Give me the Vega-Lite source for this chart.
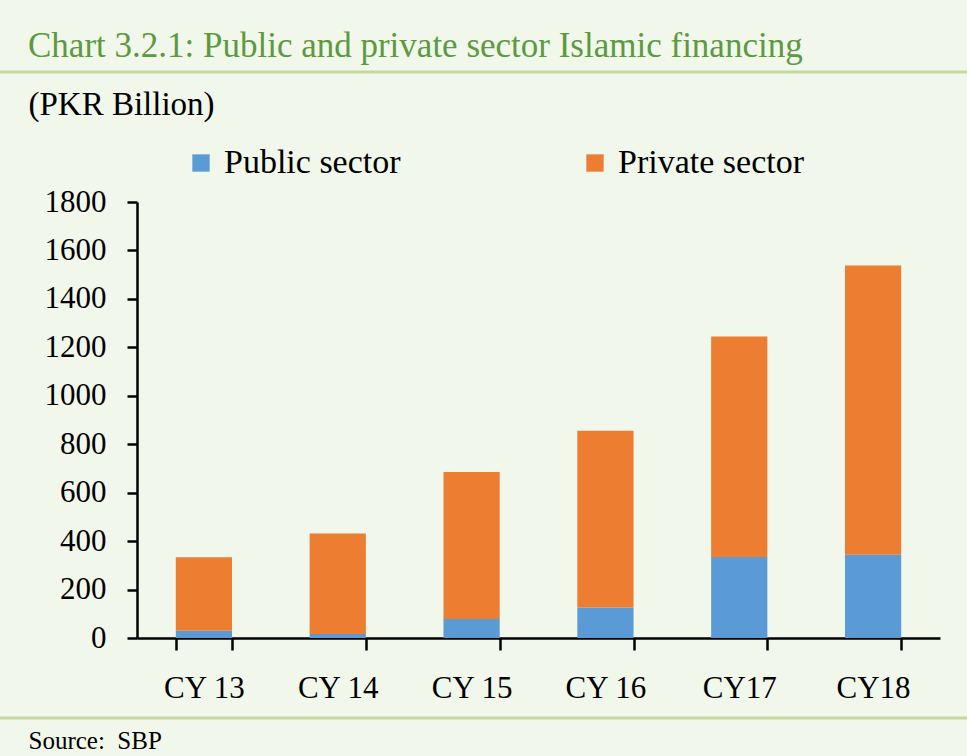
{
  "$schema": "https://vega.github.io/schema/vega-lite/v6.json",
  "width": 803,
  "height": 436,
  "autosize": {"type": "none"},
  "padding": {"left": 137, "top": 202, "right": 27, "bottom": 118},
  "background": "#F2F7EC",
  "title": {
    "text": "Chart 3.2.1: Public and private sector Islamic financing",
    "anchor": "start",
    "frame": "group",
    "dx": -109,
    "offset": 7,
    "font": "Liberation Serif",
    "fontSize": 35,
    "fontWeight": "normal",
    "color": "#5B9A3E"
  },
  "config": {
    "font": "Liberation Serif",
    "view": {"stroke": null},
    "axis": {
      "domainColor": "#000000",
      "domainWidth": 2.5,
      "tickColor": "#000000",
      "tickWidth": 2.5,
      "labelColor": "#000000",
      "labelFont": "Liberation Serif",
      "titleFont": "Liberation Serif",
      "titleColor": "#000000",
      "titleFontWeight": "normal",
      "grid": false
    },
    "legend": {
      "orient": "none",
      "legendX": 47,
      "legendY": -56,
      "direction": "horizontal",
      "symbolType": "square",
      "symbolSize": 300,
      "symbolStrokeWidth": 0,
      "labelFont": "Liberation Serif",
      "labelFontSize": 34,
      "labelColor": "#000000",
      "labelOffset": 6,
      "columnPadding": 177,
      "labelLimit": 400
    }
  },
  "layer": [
    {
      "data": {
        "values": [
          {"year": "CY 13", "sector": "Public sector", "value": 30},
          {"year": "CY 13", "sector": "Private sector", "value": 303},
          {"year": "CY 14", "sector": "Public sector", "value": 16},
          {"year": "CY 14", "sector": "Private sector", "value": 415},
          {"year": "CY 15", "sector": "Public sector", "value": 78},
          {"year": "CY 15", "sector": "Private sector", "value": 607},
          {"year": "CY 16", "sector": "Public sector", "value": 126},
          {"year": "CY 16", "sector": "Private sector", "value": 730},
          {"year": "CY17", "sector": "Public sector", "value": 334},
          {"year": "CY17", "sector": "Private sector", "value": 911},
          {"year": "CY18", "sector": "Public sector", "value": 344},
          {"year": "CY18", "sector": "Private sector", "value": 1194}
        ]
      },
      "mark": {"type": "bar"},
      "encoding": {
        "x": {
          "field": "year",
          "type": "nominal",
          "sort": null,
          "scale": {"paddingInner": 0.58, "paddingOuter": 0.29},
          "axis": {
            "title": "Source:\u00a0\u00a0SBP",
            "titleFontSize": 25,
            "titleAnchor": "start",
            "titleAlign": "left",
            "titleBaseline": "alphabetic",
            "titleX": -109,
            "titleY": 110,
            "labelAngle": 0,
            "labelFontSize": 31,
            "labelPadding": 23,
            "tickSize": 12,
            "tickBand": "extent"
          }
        },
        "y": {
          "field": "value",
          "type": "quantitative",
          "stack": "zero",
          "scale": {"domain": [0, 1800], "nice": false},
          "axis": {
            "values": [0, 200, 400, 600, 800, 1000, 1200, 1400, 1600, 1800],
            "format": "d",
            "title": "(PKR Billion)",
            "titleAngle": 0,
            "titleAlign": "left",
            "titleBaseline": "alphabetic",
            "titleX": -109,
            "titleY": -88,
            "titleFontSize": 33,
            "labelFontSize": 31,
            "labelPadding": 21,
            "tickSize": 10
          }
        },
        "color": {
          "field": "sector",
          "type": "nominal",
          "scale": {"domain": ["Public sector", "Private sector"], "range": ["#5B9BD5", "#ED7D31"]},
          "legend": {"title": null}
        },
        "order": {"field": "sector", "sort": "descending"}
      }
    },
    {
      "data": {"values": [{}]},
      "mark": {"type": "rule", "color": "#C5D89C", "strokeWidth": 3},
      "encoding": {
        "x": {"value": -137},
        "x2": {"value": 830},
        "y": {"value": -130}
      }
    },
    {
      "data": {"values": [{}]},
      "mark": {"type": "rule", "color": "#C5D89C", "strokeWidth": 3},
      "encoding": {
        "x": {"value": -137},
        "x2": {"value": 830},
        "y": {"value": 516}
      }
    }
  ]
}
